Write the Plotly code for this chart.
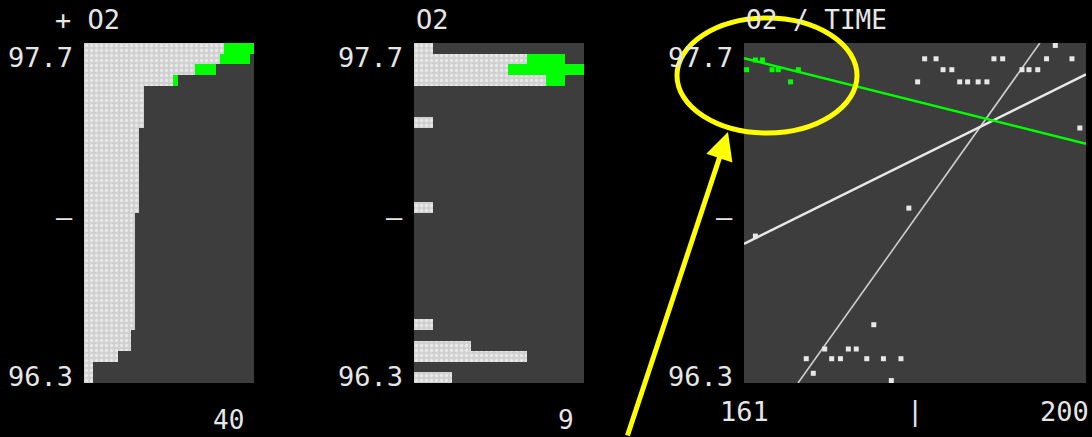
import numpy as np
import plotly.graph_objects as go

# ---- O2 distribution: 32 bins from 96.3 to 97.7, listed bottom -> top ----
o2_low, o2_high, n_bins = 96.3, 97.7, 32
older_counts = [2, 0, 6, 3, 0, 1, 0, 0, 0, 0, 0, 0, 0, 0, 0, 0,
                1, 0, 0, 0, 0, 0, 0, 0, 1, 0, 0, 0, 7, 5, 6, 1]
recent_counts = [0] * 28 + [1, 4, 2, 0]

# ---- O2 readings over time ----
older_time = [196.5,
              181.6, 182.9, 189.5, 190.5, 195.5, 198.4,
              183.7, 184.7, 192.7, 193.5, 194.5,
              180.8, 185.6, 186.5, 187.7, 188.7,
              199.3, 179.8, 162.3, 175.8,
              170.2, 172.9, 173.8,
              168.1, 171.0, 172.0, 175.0, 176.9, 178.9,
              168.9, 177.8]
older_o2 = [97.69,
            97.635, 97.635, 97.635, 97.635, 97.635, 97.635,
            97.59, 97.59, 97.59, 97.59, 97.59,
            97.54, 97.54, 97.54, 97.54, 97.54,
            97.35, 97.02, 96.905, 96.54,
            96.44, 96.44, 96.44,
            96.40, 96.40, 96.40, 96.40, 96.40, 96.40,
            96.34, 96.31]
recent_time = [162.3, 163.1, 161.3, 164.2, 164.9, 167.2, 166.3]
recent_o2 = [97.63, 97.63, 97.59, 97.59, 97.59, 97.59, 97.54]

# trend lines (end points)
recent_fit_time = [161.0, 200.0]
recent_fit_o2 = [97.637, 97.285]
all_fit_time = [161.0, 200.0]
all_fit_o2 = [96.873, 97.571]
inverse_fit_time = [167.16, 194.74]
inverse_fit_o2 = [96.3, 97.7]

time_min, time_max = 161, 200

edges = np.linspace(o2_low, o2_high, n_bins + 1)
centers = (edges[:-1] + edges[1:]) / 2
bin_w = edges[1] - edges[0]
cum_older = np.cumsum(older_counts)
cum_recent = np.cumsum(recent_counts)

W, H = 1092, 437
BG_DARK = "#3d3d3d"
LIGHT = "#d0d0d0"
GREEN = "#00ff00"
TXT = "#e6e6e6"
FONT = "DejaVu Sans Mono"

light_marker = dict(color=LIGHT, line=dict(width=0),
                    pattern=dict(shape=".", fgcolor="#ffffff", bgcolor=LIGHT,
                                 size=5, solidity=0.35))
green_marker = dict(color=GREEN, line=dict(width=0))

fig = go.Figure()

# panel 1: cumulative counts
fig.add_trace(go.Bar(y=centers, x=cum_older, orientation="h", width=bin_w,
                     marker=light_marker, xaxis="x", yaxis="y"))
fig.add_trace(go.Bar(y=centers, x=cum_recent, orientation="h", width=bin_w,
                     marker=green_marker, xaxis="x", yaxis="y"))

# panel 2: histogram
fig.add_trace(go.Bar(y=centers, x=older_counts, orientation="h", width=bin_w,
                     marker=light_marker, xaxis="x2", yaxis="y2"))
fig.add_trace(go.Bar(y=centers, x=recent_counts, orientation="h", width=bin_w,
                     marker=green_marker, xaxis="x2", yaxis="y2"))

# panel 3: O2 over time
fig.add_trace(go.Scatter(x=inverse_fit_time, y=inverse_fit_o2, mode="lines",
                         line=dict(color="#cfcfcf", width=1.6),
                         xaxis="x3", yaxis="y3"))
fig.add_trace(go.Scatter(x=all_fit_time, y=all_fit_o2, mode="lines",
                         line=dict(color="#e8e8e8", width=2.5),
                         xaxis="x3", yaxis="y3"))
fig.add_trace(go.Scatter(x=recent_fit_time, y=recent_fit_o2, mode="lines",
                         line=dict(color=GREEN, width=2.5),
                         xaxis="x3", yaxis="y3"))
fig.add_trace(go.Scatter(x=older_time, y=older_o2, mode="markers",
                         marker=dict(symbol="square", size=5, color="#e8e8e8",
                                     line=dict(width=0)),
                         xaxis="x3", yaxis="y3"))
fig.add_trace(go.Scatter(x=recent_time, y=recent_o2, mode="markers",
                         marker=dict(symbol="square", size=5, color=GREEN,
                                     line=dict(width=0)),
                         xaxis="x3", yaxis="y3"))

y_dom = [1 - 383 / H, 1 - 43 / H]
panels = [(84, 254, [0, 40]), (414, 584, [0, 9]), (744, 1086, [time_min, time_max])]
hidden = dict(visible=False, showgrid=False, zeroline=False, fixedrange=True)
layout_axes = {}
for i, (l, r, rng) in enumerate(panels, start=1):
    sfx = "" if i == 1 else str(i)
    layout_axes["xaxis" + sfx] = dict(domain=[l / W, r / W], range=rng,
                                      anchor="y" + sfx, **hidden)
    layout_axes["yaxis" + sfx] = dict(domain=y_dom, range=[o2_low, o2_high],
                                      anchor="x" + sfx, **hidden)

ann = []


def label(text, size=27, **kw):
    base = dict(text=text, showarrow=False,
                font=dict(family=FONT, size=size, color=TXT))
    base.update(kw)
    ann.append(base)


# titles
label("+ O2", xref="paper", yref="paper", x=53 / W, y=1 - 20 / H,
      xanchor="left", yanchor="middle")
label("O2", xref="paper", yref="paper", x=414 / W, y=1 - 20 / H,
      xanchor="left", yanchor="middle")
label("O2 / TIME", xref="paper", yref="paper", x=744 / W, y=1 - 20 / H,
      xanchor="left", yanchor="middle", size=26)

# O2 scale labels for each panel
for i, (l, r, rng) in enumerate(panels, start=1):
    sfx = "" if i == 1 else str(i)
    xl = (l - 9) / W
    label("97.7", xref="paper", yref="y" + sfx, x=xl, y=o2_high,
          xanchor="right", yanchor="top", yshift=3)
    label("–", xref="paper", yref="y" + sfx, x=xl, y=(o2_low + o2_high) / 2,
          xanchor="right", yanchor="middle", yshift=-3)
    label("96.3", xref="paper", yref="y" + sfx, x=xl, y=o2_low,
          xanchor="right", yanchor="bottom", yshift=-11)

# count maxima, sitting on the bottom edge
label("40", xref="x", yref="paper", x=40, y=0, xanchor="right",
      yanchor="bottom", xshift=-8, size=26)
label("9", xref="x2", yref="paper", x=9, y=0, xanchor="right",
      yanchor="bottom", xshift=-8, size=26)

# time scale
label("161", xref="x3", yref="paper", x=time_min, y=1 - 411 / H,
      xanchor="center", yanchor="middle")
label("|", xref="x3", yref="paper", x=(time_min + time_max) / 2, y=1 - 411 / H,
      xanchor="center", yanchor="middle")
label("200", xref="x3", yref="paper", x=time_max, y=1 - 411 / H,
      xanchor="right", yanchor="middle", xshift=5)

# callout arrow
ann.append(dict(x=728 / W, y=1 - 132 / H, xref="paper", yref="paper",
                ax=-101, ay=313, axref="pixel", ayref="pixel",
                text="", showarrow=True, arrowhead=2, arrowsize=1.1,
                arrowwidth=5, arrowcolor="#ffff00"))

fig.update_layout(
    width=W, height=H, margin=dict(l=0, r=0, t=0, b=0, pad=0),
    paper_bgcolor="#000000", plot_bgcolor=BG_DARK,
    barmode="stack", bargap=0, showlegend=False,
    annotations=ann,
    shapes=[dict(type="circle", xref="paper", yref="paper",
                 x0=677 / W, x1=857 / W, y0=1 - 133 / H, y1=1 - 18 / H,
                 line=dict(color="#ffff00", width=5))],
    **layout_axes,
)

fig.write_html("out.html")
